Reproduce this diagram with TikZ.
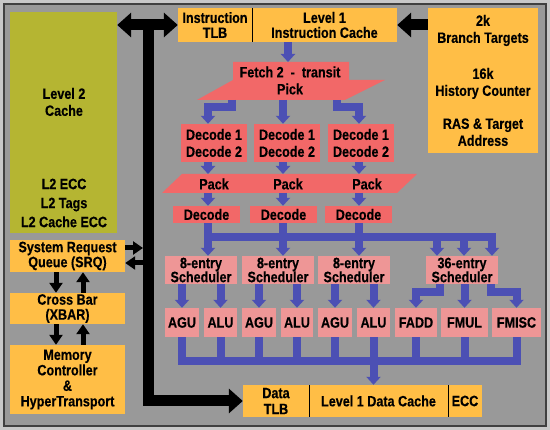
\documentclass[tikz,border=0pt]{standalone}
\usepackage{fontspec}
\newfontfamily\labelfont{Liberation Sans}[FakeStretch=0.84, BoldFeatures={FakeBold=0.3}]
\usetikzlibrary{arrows.meta,positioning}

\definecolor{panel}{RGB}{153,153,153}
\definecolor{rim}{RGB}{200,200,200}
\definecolor{cachebox}{RGB}{255,190,70}
\definecolor{ltwo}{RGB}{181,181,50}
\definecolor{stage}{RGB}{242,104,104}
\definecolor{exec}{RGB}{238,150,150}
\definecolor{flowblue}{RGB}{76,80,180}

\begin{document}
\begin{tikzpicture}[x=1pt,y=-1pt,
    lbl/.style={font=\labelfont\bfseries\fontsize{15}{#1}\selectfont, align=center, inner sep=0pt},
    lbl/.default=16,
    wh/.style 2 args={minimum width=#1, minimum height=#2},
    obox/.style={lbl=#1, fill=cachebox}, obox/.default=16,
    rbox/.style={lbl=#1, fill=stage}, rbox/.default=16,
    pbox/.style={lbl=#1, fill=exec}, pbox/.default=16,
    flowline/.style={draw=flowblue, line width=8pt},
    flowarrow/.style={flowline, -{Triangle[width=14pt,length=8pt]}},
    bigto/.style={line width=11pt, -{Triangle[width=24pt,length=14pt]}},
    bigboth/.style={line width=11pt, {Triangle[width=24pt,length=14pt]}-{Triangle[width=24pt,length=14pt]}},
    smallto/.style={line width=5pt, -{Triangle[width=13pt,length=10pt]}}]

	%%%%% FRAME %%%%%
	\useasboundingbox (0,0) rectangle (550,430);
	\fill[rim] (0,0) rectangle (550,430);
	\filldraw[fill=panel, draw=black!75, line width=1.5pt] (4,4) rectangle (546,426);

	%%%%% LEFT SIDE %%%%%
	\node[fill=ltwo, wh={107}{221}] (l2) at (63.5,122.5) {};
	\node[lbl=17] (l2name) at (64,102) {Level 2\\Cache};
	\node[lbl=19] (l2tags) at (64,203) {L2 ECC\\L2 Tags\\L2 Cache ECC};

	\node[obox=15, wh={115}{32}] (srq) at (67.5,256) {System Request\\Queue (SRQ)};
	\node[obox=15, wh={115}{31}] (xbar) at (67.5,308.5) {Cross Bar\\(XBAR)};
	\node[obox=15.5, wh={115}{69}] (mem) at (67.5,379.5) {Memory\\Controller\\\&\\HyperTransport};

	%%%%% TOP %%%%%
	\node[obox=15, wh={74}{34}] (itlb) at (215,25) {Instruction\\TLB};
	\node[obox=15, wh={145}{34}] (icache) at (324.5,25) {Level 1\\Instruction Cache};
	\draw[line width=1pt] (itlb.north east) -- (itlb.south east);
	\node[obox=17, wh={110}{145}] (branch) at (483,80.5) {2k\\Branch Targets\\[19pt]16k\\History Counter\\[16pt]RAS \& Target\\Address};

	%%%%% FETCH / DECODE %%%%%
	\fill[stage] (233,62) -- (349,62) -- (349,80) -- (385,80) -- (345,100) -- (197,100) -- (233,80) -- cycle;
	\node[lbl] (fetch) at (290,72) {Fetch 2 ~-~ transit};
	\node[lbl] (pick) at (290,89) {Pick};

	\node[rbox=17, wh={66}{38}] (d12a) at (214,143) {Decode 1\\Decode 2};
	\node[rbox=17, wh={66}{38}] (d12b) at (287,143) {Decode 1\\Decode 2};
	\node[rbox=17, wh={66}{38}] (d12c) at (361,143) {Decode 1\\Decode 2};

	\fill[stage] (182,174) -- (417,174) -- (397,193) -- (162,193) -- cycle;
	\node[lbl] (pack1) at (214,184) {Pack};
	\node[lbl] (pack2) at (288,184) {Pack};
	\node[lbl] (pack3) at (367,184) {Pack};

	\node[rbox, wh={67}{17}] (deca) at (206.5,214.5) {Decode};
	\node[rbox, wh={67}{17}] (decb) at (283.5,214.5) {Decode};
	\node[rbox, wh={67}{17}] (decc) at (358.5,214.5) {Decode};

	%%%%% SCHEDULERS / UNITS %%%%%
	\node[pbox=14, wh={72}{28}] (scha) at (201,270) {8-entry\\Scheduler};
	\node[pbox=14, wh={72}{28}] (schb) at (278,270) {8-entry\\Scheduler};
	\node[pbox=14, wh={72}{28}] (schc) at (354,270) {8-entry\\Scheduler};
	\node[pbox=14, wh={72}{28}] (schd) at (462,270) {36-entry\\Scheduler};

	\node[pbox, wh={34}{29}] (agu1) at (182,322.5) {AGU};
	\node[pbox, wh={33}{29}] (alu1) at (220.5,322.5) {ALU};
	\node[pbox, wh={34}{29}] (agu2) at (259,322.5) {AGU};
	\node[pbox, wh={32}{29}] (alu2) at (297,322.5) {ALU};
	\node[pbox, wh={34}{29}] (agu3) at (335,322.5) {AGU};
	\node[pbox, wh={33}{29}] (alu3) at (373.5,322.5) {ALU};
	\node[pbox, wh={42}{29}] (fadd) at (416,322.5) {FADD};
	\node[pbox, wh={47}{29}] (fmul) at (464.5,322.5) {FMUL};
	\node[pbox, wh={49}{29}] (fmisc) at (516.5,322.5) {FMISC};

	%%%%% DATA SIDE %%%%%
	\node[obox=16, wh={66}{32}] (dtlb) at (276,401) {Data\\TLB};
	\node[obox, wh={139}{32}] (dcache) at (378.5,401) {Level 1 Data Cache};
	\node[obox, wh={34}{32}] (ecc) at (465,401) {ECC};
	\draw[line width=1pt] (dtlb.north east) -- (dtlb.south east);
	\draw[line width=1pt] (dcache.north east) -- (dcache.south east);

	%%%%% BLUE FLOW %%%%%
	\coordinate (ftop) at (288,62);
	\coordinate (fbot) at (283,100);
	\coordinate (c1) at (208,0);
	\coordinate (c2) at (283,0);
	\coordinate (c3) at (359,0);
	\coordinate (packtop) at (283,174);
	\coordinate (packbot) at (283,193);
	\coordinate (decbus) at (208,237);
	\coordinate (unitbus) at (183,361);

	\draw[flowarrow] (icache.south -| ftop) -- (ftop);
	\draw[flowarrow] ([xshift=-51pt]fbot) -- ++(0,7) -| (c1 |- d12a.north);
	\draw[flowarrow] (fbot) -- (c2 |- d12b.north);
	\draw[flowarrow] ([xshift=54pt]fbot) -- ++(0,7) -| (c3 |- d12c.north);

	\foreach \c/\n in {c1/a, c2/b, c3/c} {
		\draw[flowarrow] (\c |- d12\n.south) -- (\c |- packtop);
		\draw[flowarrow] (\c |- packbot) -- (\c |- dec\n.north);
		\draw[flowarrow] (\c |- dec\n.south) -- (\c |- sch\n.north);
	}

	\coordinate (s36a) at ([xshift=-25pt]schd.north);
	\coordinate (s36b) at ([xshift=2pt]schd.north);
	\coordinate (s36c) at ([xshift=30pt]schd.north);
	\draw[flowline, line cap=rect] (decbus) -- (s36c |- decbus);
	\foreach \s in {s36a, s36b, s36c}
		\draw[flowarrow] (\s |- decbus) -- (\s);

	\foreach \u/\s in {agu1/scha, alu1/scha, agu2/schb, alu2/schb, agu3/schc, alu3/schc}
		\draw[flowarrow] (\u |- \s.south) -- (\u.north);
	\draw[flowarrow] ([xshift=-22pt]schd.south) -- ++(0,8) -| (fadd.north);
	\draw[flowarrow] (fmul |- schd.south) -- (fmul.north);
	\draw[flowarrow] ([xshift=29pt]schd.south) -- ++(0,8) -| (fmisc.north);

	\foreach \u in {agu1, alu1, agu2, alu2, agu3, alu3, fadd, fmul, fmisc}
		\draw[flowline] (\u.south) -- (\u |- unitbus);
	\draw[flowline, line cap=rect] (agu1 |- unitbus) -- (fmisc |- unitbus);
	\draw[flowarrow] (alu3 |- unitbus) -- (alu3 |- dcache.north);

	%%%%% BLACK BUS %%%%%
	\coordinate (bustop) at (148.5,25);
	\coordinate (busleft) at (143,25);
	\draw[bigboth] (l2.east |- itlb.west) -- (itlb.west);
	\draw[bigto] (bustop) |- (dtlb.west);
	\draw[bigto] (branch.west |- icache.east) -- (icache.east);

	\coordinate (srqout) at ([yshift=8pt]srq.east);
	\coordinate (srqin) at ([yshift=-7pt]srq.east);
	\draw[smallto] (srqout) -- (srqout -| busleft);
	\draw[smallto] (srqin -| busleft) -- (srqin);

	\coordinate (dnx) at (56,0);
	\coordinate (upx) at (83,0);
	\draw[smallto] (dnx |- srq.south) -- (dnx |- xbar.north);
	\draw[smallto] (upx |- xbar.north) -- (upx |- srq.south);
	\draw[smallto] (dnx |- xbar.south) -- (dnx |- mem.north);
	\draw[smallto] (upx |- mem.north) -- (upx |- xbar.south);

\end{tikzpicture}
\end{document}
